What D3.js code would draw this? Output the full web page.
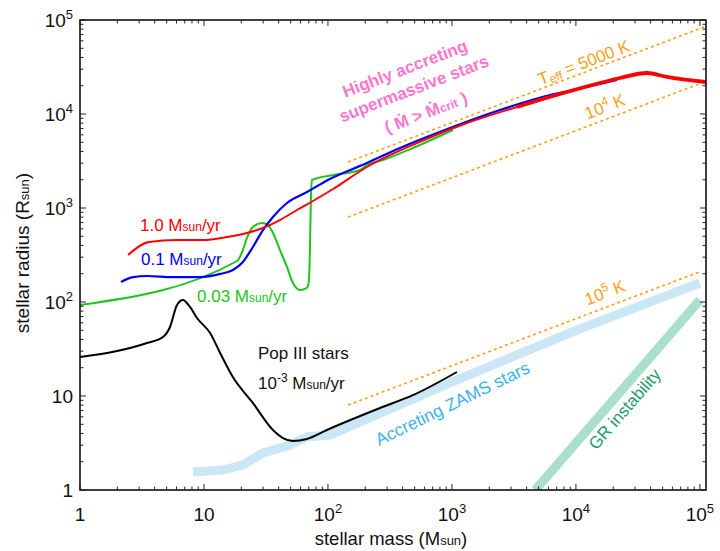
<!DOCTYPE html>
<html><head><meta charset="utf-8">
<script src="https://cdn.jsdelivr.net/npm/d3@7"></script>
<style>
body{margin:0;background:#fff}
svg{display:block}
text{font-family:"Liberation Sans",Arial,Helvetica,sans-serif}
</style>
</head><body>
<svg id="c" width="720" height="551"></svg>
<script>
// ---------- data ----------
const xTickVals = [1, 10, 100, 1000, 10000, 100000];
const xTickBase = ["1", "10", "10", "10", "10", "10"];
const xTickSup  = ["", "", "2", "3", "4", "5"];
const yTickVals = [1, 10, 100, 1000, 10000, 100000];
const yTickBase = ["1", "10", "10", "10", "10", "10"];
const yTickSup  = ["", "", "2", "3", "4", "5"];

// 1.0 Msun/yr (red)
const redMass = [2.44, 3.6, 6.06, 9.82, 15.3, 22.2, 28.3, 41, 56.2, 75.7, 110, 206, 522, 1321, 3342, 8460, 15600, 22600, 37400, 54200, 112000];
const redRad  = [316, 435, 457, 457, 491, 542, 598, 745, 952, 1187, 1592, 2730, 4910, 8020, 11870, 17140, 21360, 24150, 27300, 24770, 21900];
// 0.1 Msun/yr (blue)
const blueMass = [2.14, 2.68, 3.47, 5.62, 9.29, 13.5, 17.1, 20.6, 24.8, 29.9, 36, 46.7, 67.7, 100, 206, 381, 964, 2440, 6170, 12300, 21400];
const blueRad  = [163, 184, 189, 184, 184, 199, 219, 267, 385, 583, 802, 1130, 1480, 1990, 3013, 4350, 7100, 11030, 15920, 19370, 23000];
// 0.03 Msun/yr (green)
const greenMass = [1, 18.5, 20.6, 22.2, 24.8, 29.4, 32.8, 36, 41, 46.7, 52.2, 59.5, 67.7, 70.3, 71.6, 72.9, 74.3, 110, 181, 206, 278, 484, 1019];
const greenRad  = [92.9, 273, 357, 480, 628, 692, 659, 542, 357, 236, 159, 134, 141, 171, 385, 1309, 1985, 2244, 2536, 2866, 3240, 4350, 6760];
// Pop III, 1e-3 Msun/yr (black)
const blackMass = [1, 3.47, 4.67, 5.32, 6.06, 6.77, 7.71, 8.78, 11.2, 13.5, 17.1, 24.8, 36, 43.4, 52.2, 67.7, 98.1, 263, 484, 1097];
const blackRad  = [26, 36.6, 42.4, 54.2, 92.9, 105, 88.5, 67.6, 46.8, 28.7, 15.9, 8.43, 4.35, 3.57, 3.32, 3.49, 4.35, 7.45, 10.2, 18];
// Accreting ZAMS band
const zamsMass = [8.15, 14.2, 20.6, 29.9, 49.4, 67.7, 104, 964, 10200, 100000];
const zamsRad  = [1.55, 1.63, 1.85, 2.48, 3.01, 3.66, 3.85, 13.8, 50.4, 159];
// GR instability band
const grMass = [4700, 100000];
const grRad  = [1, 105];
// Teff lines (orange dotted)
const t5000Mass = [145, 112000];
const t5000Rad  = [3085, 85700];
const t1e4Mass  = [145, 112000];
const t1e4Rad   = [800, 22240];
const t1e5Mass  = [145, 100000];
const t1e5Rad   = [8.0, 210];

// ---------- chart ----------
const svg = d3.select("#c");
const L = 80, R = 706, T = 20, B = 490;
const x = d3.scaleLog().domain([1, 112000]).range([L, R]);
const y = d3.scaleLog().domain([1, 100000]).range([B, T]);

svg.append("clipPath").attr("id", "clip").append("rect")
  .attr("x", L).attr("y", T).attr("width", R - L).attr("height", B - T);
const plot = svg.append("g").attr("clip-path", "url(#clip)");

const zip = (a, b) => a.map((v, i) => [v, b[i]]);
const line = d3.line().x(d => x(d[0])).y(d => y(d[1])).curve(d3.curveMonotoneX);
const straight = d3.line().x(d => x(d[0])).y(d => y(d[1]));

// bands
plot.append("path").attr("d", straight(zip(zamsMass, zamsRad)))
  .attr("fill", "none").attr("stroke", "#cbe6f4").attr("stroke-width", 9);
plot.append("path").attr("d", straight(zip(grMass, grRad)))
  .attr("fill", "none").attr("stroke", "#a9dfcb").attr("stroke-width", 9);

// Teff lines
[[t5000Mass, t5000Rad], [t1e4Mass, t1e4Rad], [t1e5Mass, t1e5Rad]].forEach(([m, r]) => {
  plot.append("path").attr("d", straight(zip(m, r)))
    .attr("fill", "none").attr("stroke", "#f7a11b").attr("stroke-width", 1.6)
    .attr("stroke-dasharray", "3,3");
});

// tracks
plot.append("path").attr("d", line(zip(blackMass, blackRad)))
  .attr("fill", "none").attr("stroke", "#000").attr("stroke-width", 2);
plot.append("path").attr("d", line(zip(greenMass, greenRad)))
  .attr("fill", "none").attr("stroke", "#1ec41e").attr("stroke-width", 2);
plot.append("path").attr("d", line(zip(blueMass, blueRad)))
  .attr("fill", "none").attr("stroke", "#0000ff").attr("stroke-width", 2.2);
const redPts = zip(redMass, redRad);
plot.append("path").attr("d", line(redPts))
  .attr("fill", "none").attr("stroke", "#ff0000").attr("stroke-width", 2);
plot.append("path").attr("d", line(redPts.filter(d => d[0] >= 3342)))
  .attr("fill", "none").attr("stroke", "#ff0000").attr("stroke-width", 3.8);

// frame
svg.append("rect").attr("x", L).attr("y", T).attr("width", R - L).attr("height", B - T)
  .attr("fill", "none").attr("stroke", "#000").attr("stroke-width", 1.5);

// ticks
const tickG = svg.append("g").attr("stroke", "#222").attr("stroke-width", 1);
for (let e = 0; e < 6; e++) {
  for (let k = 1; k <= 9; k++) {
    const v = Math.pow(10, e) * k;
    const len = k === 1 ? 6 : 3.5;
    if (v <= 112000) {
      const px = x(v);
      tickG.append("line").attr("x1", px).attr("x2", px).attr("y1", B).attr("y2", B - len);
      tickG.append("line").attr("x1", px).attr("x2", px).attr("y1", T).attr("y2", T + len);
    }
    if (v <= 100000) {
      const py = y(v);
      tickG.append("line").attr("y1", py).attr("y2", py).attr("x1", L).attr("x2", L + len);
      tickG.append("line").attr("y1", py).attr("y2", py).attr("x1", R).attr("x2", R - len);
    }
  }
}

// tick labels
const fs = 19, sfs = 13;
xTickVals.forEach((v, i) => {
  const t = svg.append("text").attr("x", x(v)).attr("y", B + 31)
    .attr("text-anchor", "middle").attr("font-size", fs).attr("fill", "#111");
  t.append("tspan").text(xTickBase[i]);
  if (xTickSup[i]) t.append("tspan").attr("font-size", sfs).attr("dy", -8).text(xTickSup[i]);
});
yTickVals.forEach((v, i) => {
  const t = svg.append("text").attr("x", 73).attr("y", y(v) + 7)
    .attr("text-anchor", "end").attr("font-size", fs).attr("fill", "#111");
  t.append("tspan").text(yTickBase[i]);
  if (yTickSup[i]) t.append("tspan").attr("font-size", sfs).attr("dy", -8).text(yTickSup[i]);
});

// axis titles
const xt = svg.append("text").attr("x", 391).attr("y", 545).attr("text-anchor", "middle")
  .attr("font-size", 18.5).attr("fill", "#111");
xt.append("tspan").text("stellar mass (M");
xt.append("tspan").attr("font-size", 13).text("sun");
xt.append("tspan").text(")");
const yt = svg.append("text").attr("transform", "translate(29,253) rotate(-90)")
  .attr("text-anchor", "middle").attr("font-size", 19).attr("fill", "#111");
yt.append("tspan").text("stellar radius  (R");
yt.append("tspan").attr("font-size", 13).text("sun");
yt.append("tspan").text(")");

// helper for "X Msun/yr" labels
function rateLabel(px, py, pre, color, sup) {
  const t = svg.append("text").attr("x", px).attr("y", py).attr("font-size", 17).attr("fill", color);
  t.append("tspan").text(pre);
  if (sup) t.append("tspan").attr("font-size", 12).attr("dy", -7).text(sup);
  t.append("tspan").attr("dy", sup ? 7 : 0).text((sup ? " " : "") + "M");
  t.append("tspan").attr("font-size", 12).text("sun");
  t.append("tspan").text("/yr");
  return t;
}
rateLabel(140, 231, "1.0 ", "#ff0000");
rateLabel(141, 265, "0.1 ", "#0000ff");
rateLabel(197, 302, "0.03 ", "#22c322");
svg.append("text").attr("x", 258).attr("y", 359).attr("font-size", 17).attr("fill", "#111").text("Pop III stars");
rateLabel(258, 389, "10", "#111", "-3");

// pink annotation
const pink = svg.append("g").attr("fill", "#f977cf").attr("font-weight", "bold").attr("font-size", 17)
  .attr("text-anchor", "middle");
pink.append("text").attr("transform", "translate(407,74) rotate(-21)").text("Highly accreting");
pink.append("text").attr("transform", "translate(416,94) rotate(-21)").text("supermassive stars");
const p3 = pink.append("text").attr("transform", "translate(428,118) rotate(-21)");
p3.append("tspan").text("( Ṁ > Ṁ");
p3.append("tspan").attr("font-size", 12).text("crit");
p3.append("tspan").text(" )");

// Teff labels
const orange = "#f7a11b";
const tl = svg.append("text").attr("transform", "translate(586,68) rotate(-21)")
  .attr("text-anchor", "middle").attr("font-size", 17).attr("fill", orange);
tl.append("tspan").text("T");
tl.append("tspan").attr("font-size", 12).attr("dy", 2).text("eff");
tl.append("tspan").attr("dy", -2).text(" = 5000 K");
const t4 = svg.append("text").attr("transform", "translate(607,112) rotate(-21)")
  .attr("text-anchor", "middle").attr("font-size", 17).attr("fill", orange);
t4.append("tspan").text("10");
t4.append("tspan").attr("font-size", 12).attr("dy", -7).text("4");
t4.append("tspan").attr("dy", 7).text(" K");
const t5 = svg.append("text").attr("transform", "translate(607,298) rotate(-21)")
  .attr("text-anchor", "middle").attr("font-size", 17).attr("fill", orange);
t5.append("tspan").text("10");
t5.append("tspan").attr("font-size", 12).attr("dy", -7).text("5");
t5.append("tspan").attr("dy", 7).text(" K");

// band labels
svg.append("text").attr("transform", "translate(455,409) rotate(-26)")
  .attr("text-anchor", "middle").attr("font-size", 17.5).attr("fill", "#3cb2ea").text("Accreting ZAMS stars");
svg.append("text").attr("transform", "translate(629,413) rotate(-49)")
  .attr("text-anchor", "middle").attr("font-size", 17).attr("fill", "#1d9b6c").text("GR instability");
</script>
</body></html>
